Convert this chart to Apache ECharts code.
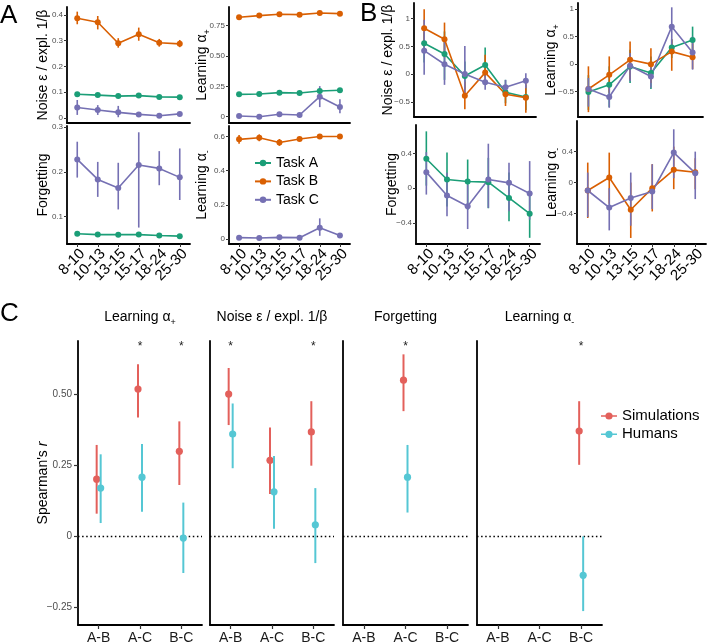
<!DOCTYPE html>
<html><head><meta charset="utf-8">
<script src="https://cdn.jsdelivr.net/npm/echarts@6/dist/echarts.min.js"></script>
<style>html,body{margin:0;padding:0;background:#fff}#c{width:708px;height:643px}</style>
</head><body><div id="c"></div>
<script>
// ---------- categories ----------
const ageGroups = ['8-10','10-13','13-15','15-17','18-24','25-30'];
const taskNames = ['Task A','Task B','Task C'];
const pairs = ['A-B','A-C','B-C'];
const groupNames = ['Simulations','Humans'];

// ---------- Panel A : parameter values per age group, [mean, low, high] ----------
const aNoiseA = [[0.092,0.088,0.096],[0.089,0.085,0.093],[0.085,0.081,0.089],[0.087,0.083,0.091],[0.082,0.078,0.086],[0.081,0.077,0.085]];
const aNoiseB = [[0.387,0.364,0.413],[0.372,0.344,0.396],[0.290,0.273,0.310],[0.325,0.300,0.351],[0.292,0.277,0.307],[0.288,0.275,0.303]];
const aNoiseC = [[0.041,0.012,0.070],[0.031,0.012,0.050],[0.022,0.003,0.047],[0.014,0.009,0.019],[0.009,0.005,0.013],[0.016,0.011,0.021]];
const aLrnPosA = [[0.184,0.176,0.192],[0.187,0.179,0.195],[0.198,0.190,0.206],[0.195,0.187,0.203],[0.212,0.204,0.220],[0.218,0.210,0.226]];
const aLrnPosB = [[0.819,0.811,0.827],[0.833,0.825,0.841],[0.844,0.836,0.852],[0.841,0.833,0.849],[0.855,0.847,0.863],[0.849,0.841,0.857]];
const aLrnPosC = [[0.006,0.000,0.012],[0.000,-0.005,0.006],[0.020,0.013,0.027],[0.014,0.007,0.021],[0.165,0.079,0.252],[0.080,0.028,0.143]];
const aForgetA = [[0.062,0.060,0.064],[0.060,0.058,0.062],[0.0598,0.058,0.062],[0.060,0.058,0.062],[0.058,0.056,0.060],[0.0565,0.0545,0.0585]];
const aForgetC = [[0.2276,0.187,0.267],[0.183,0.144,0.222],[0.164,0.116,0.220],[0.215,0.0756,0.288],[0.2075,0.170,0.246],[0.1875,0.137,0.252]];
const aLrnNegB = [[0.583,0.557,0.609],[0.592,0.572,0.612],[0.565,0.545,0.585],[0.585,0.573,0.597],[0.600,0.590,0.610],[0.600,0.590,0.610]];
const aLrnNegC = [[0.008,0.002,0.014],[0.006,0.000,0.012],[0.010,0.004,0.016],[0.008,0.002,0.014],[0.066,0.019,0.121],[0.021,0.009,0.033]];

// ---------- Panel B : standardized values, [mean, low, high] ----------
const bNoiseA = [[0.557,0.21,0.77],[0.365,-0.10,0.77],[-0.03,-0.28,0.23],[0.167,-0.04,0.48],[-0.324,-0.52,-0.10],[-0.41,-0.64,-0.19]];
const bNoiseB = [[0.827,0.50,1.17],[0.63,0.30,0.93],[-0.385,-0.63,-0.133],[0.03,-0.19,0.35],[-0.36,-0.57,-0.25],[-0.42,-0.69,-0.16]];
const bNoiseC = [[0.425,-0.01,0.98],[0.18,-0.19,0.63],[0.005,-0.40,0.51],[-0.144,-0.28,0.03],[-0.234,-0.36,-0.10],[-0.115,-0.25,0.02]];
const bLrnPosA = [[-0.505,-0.83,-0.20],[-0.374,-0.78,-0.04],[-0.043,-0.34,0.26],[-0.162,-0.45,0.14],[0.30,0.11,0.45],[0.439,0.20,0.68]];
const bLrnPosB = [[-0.451,-0.87,-0.04],[-0.193,-0.52,0.14],[0.078,-0.28,0.41],[0.0,-0.34,0.29],[0.227,-0.12,0.45],[0.126,-0.09,0.38]];
const bLrnPosC = [[-0.451,-0.77,-0.25],[-0.596,-0.79,-0.34],[-0.03,-0.31,0.20],[-0.224,-0.43,-0.04],[0.679,0.32,1.03],[0.209,-0.10,0.50]];
const bForgetA = [[0.339,0.03,0.654],[0.10,-0.21,0.41],[0.077,-0.25,0.33],[0.07,-0.23,0.35],[-0.111,-0.38,0.18],[-0.292,-0.57,-0.05]];
const bForgetC = [[0.185,-0.073,0.415],[-0.084,-0.323,0.177],[-0.207,-0.469,0.042],[0.10,-0.226,0.512],[0.062,-0.265,0.293],[-0.061,-0.361,0.312]];
const bLrnNegB = [[-0.103,-0.459,0.258],[0.065,-0.275,0.387],[-0.352,-0.717,0.0],[-0.073,-0.374,0.237],[0.164,-0.086,0.465],[0.134,-0.086,0.315]];
const bLrnNegC = [[-0.103,-0.447,0.129],[-0.323,-0.619,-0.073],[-0.201,-0.559,0.129],[-0.116,-0.343,0.237],[0.387,0.056,0.689],[0.121,-0.214,0.40]];

// ---------- Panel C : Spearman's r per task pair, [mean, low, high] ----------
const cSimLrnPos = [[0.2015,0.080,0.322],[0.519,0.419,0.606],[0.2997,0.181,0.405]];
const cHumLrnPos = [[0.170,0.047,0.289],[0.2085,0.087,0.325],[-0.006,-0.129,0.119]];
const cSimNoise = [[0.501,0.392,0.593],[0.268,0.149,0.383],[0.368,0.249,0.476]];
const cHumNoise = [[0.3606,0.240,0.468],[0.157,0.027,0.283],[0.041,-0.094,0.170]];
const cSimForget = [null,[0.550,0.441,0.641],null];
const cHumForget = [null,[0.2085,0.084,0.322],null];
const cSimLrnNeg = [null,null,[0.371,0.252,0.476]];
const cHumLrnNeg = [null,null,[-0.137,-0.263,0.000]];
const cSigLrnPos = ['','*','*'];
const cSigNoise = ['*','','*'];
const cSigForget = ['','*',''];
const cSigLrnNeg = ['','','*'];

// ---------- tick values and labels ----------
const tA_noise = [0,0.1,0.2,0.3,0.4], lA_noise = ['0','0.1','0.2','0.3','0.4'];
const tA_pos = [0,0.25,0.5,0.75], lA_pos = ['0','0.25','0.50','0.75'];
const tA_forget = [0.1,0.2,0.3], lA_forget = ['0.1','0.2','0.3'];
const tA_neg = [0,0.2,0.4,0.6], lA_neg = ['0','0.2','0.4','0.6'];
const tB_noise = [-0.5,0,0.5,1], lB_noise = ['\u22120.5','0','0.5','1'];
const tB_pos = [-0.5,0,0.5,1], lB_pos = ['\u22120.5','0','0.5','1'];
const tB_forget = [-0.4,0,0.4], lB_forget = ['\u22120.4','0','0.4'];
const tB_neg = [-0.4,0,0.4], lB_neg = ['\u22120.4','0','0.4'];
const tC = [-0.25,0,0.25,0.5], lC = ['\u22120.25','0','0.25','0.50'];

// ---------- styling ----------
const FONT = '"Liberation Sans", Arial, Helvetica, sans-serif';
const colTask = ['#1B9E77','#D95F02','#7570B3'];
const colSim = '#E3605B', colHum = '#55C7D4';
const AXL = {color:'#000', width:1.8};
const RICH = {
  t:{fontSize:14, fontFamily:FONT, color:'#000', lineHeight:20, verticalAlign:'middle'},
  s:{fontSize:9, fontFamily:FONT, color:'#000', lineHeight:9, verticalAlign:'bottom'},
  i:{fontSize:14, fontFamily:FONT, color:'#000', fontStyle:'italic', lineHeight:20, verticalAlign:'middle'}
};
const nmNoise = '{t|Noise \u03b5 / expl. 1/\u03b2}';
const nmPos = '{t|Learning \u03b1}{s|+}';
const nmNeg = '{t|Learning \u03b1}{s|-}';
const nmForget = '{t|Forgetting}';

function fmtFrom(ticks, labels){
  return v => { const i = ticks.findIndex(t => Math.abs(t - v) < 1e-9); return i >= 0 ? labels[i] : ''; };
}
function errItem(params, api){
  const x = api.value(0);
  const lo = api.coord([x, api.value(1)]), hi = api.coord([x, api.value(2)]);
  return {type:'line', shape:{x1:lo[0],y1:lo[1],x2:hi[0],y2:hi[1]}, style:{stroke:api.visual('color'), lineWidth:1.6}};
}

const grid = [], xAxis = [], yAxis = [], series = [];

function addAB(pos, yMin, yMax, ticks, labels, name, nameGap, showX, tasks){
  const i = grid.length;
  grid.push(Object.assign({containLabel:false, outerBoundsMode:'none'}, pos));
  xAxis.push({gridIndex:i, type:'category', data:ageGroups, boundaryGap:true,
    axisLine:{show:true, onZero:false, lineStyle:AXL},
    axisTick:{show:showX, alignWithLabel:true, length:3, lineStyle:{color:'#333', width:1}},
    axisLabel:{show:showX, interval:0, rotate:45, fontSize:15, color:'#000', fontFamily:FONT, margin:2,
               align:'right', verticalAlign:'top'},
    splitLine:{show:false}});
  yAxis.push({gridIndex:i, type:'value', min:yMin, max:yMax, splitLine:{show:false},
    axisLine:{show:true, onZero:false, lineStyle:AXL},
    axisTick:{show:true, length:3, customValues:ticks, lineStyle:{color:'#333', width:1}},
    axisLabel:{show:true, customValues:ticks, formatter:fmtFrom(ticks, labels), fontSize:8, color:'#4d4d4d', fontFamily:FONT, margin:4},
    name:name, nameLocation:'middle', nameRotate:90, nameGap:nameGap, nameMoveOverlap:false,
    nameTextStyle:{fontFamily:FONT, fontSize:14, color:'#000', rich:RICH}});
  tasks.forEach(([vals, k]) => {
    const color = colTask[k];
    series.push({type:'custom', name:taskNames[k]+' err', xAxisIndex:i, yAxisIndex:i,
      data: vals.map((v,j) => [j, v[1], v[2]]), renderItem:errItem, itemStyle:{color},
      encode:{x:0, y:[1,2]}, animation:false, z:2, silent:true});
    series.push({type:'line', name:taskNames[k], xAxisIndex:i, yAxisIndex:i,
      data: vals.map(v => v[0]), symbol:'circle', symbolSize:6, showSymbol:true,
      lineStyle:{color, width:1.6}, itemStyle:{color}, animation:false, z:3, silent:true});
  });
}

// Panel A
addAB({left:67, top:7, width:123, height:116}, -0.0194, 0.431, tA_noise, lA_noise, nmNoise, 14, false, [[aNoiseA,0],[aNoiseB,1],[aNoiseC,2]]);
addAB({left:229, top:7, width:121, height:116}, -0.052, 0.904, tA_pos, lA_pos, nmPos, 17, false, [[aLrnPosA,0],[aLrnPosB,1],[aLrnPosC,2]]);
addAB({left:67, top:126, width:123, height:118}, 0.039, 0.302, tA_forget, lA_forget, nmForget, 14, true, [[aForgetA,0],[aForgetC,2]]);
addAB({left:229, top:126, width:121, height:118}, -0.029, 0.661, tA_neg, lA_neg, nmNeg, 17, true, [[aLrnNegB,1],[aLrnNegC,2]]);
// Panel B
addAB({left:414, top:3, width:122, height:114}, -0.768, 1.282, tB_noise, lB_noise, nmNoise, 16, false, [[bNoiseA,0],[bNoiseB,1],[bNoiseC,2]]);
addAB({left:578, top:3, width:125, height:114}, -0.958, 1.108, tB_pos, lB_pos, nmPos, 17, false, [[bLrnPosA,0],[bLrnPosB,1],[bLrnPosC,2]]);
addAB({left:416, top:125, width:124, height:119}, -0.641, 0.727, tB_forget, lB_forget, nmForget, 14, true, [[bForgetA,0],[bForgetC,2]]);
addAB({left:577, top:121, width:129, height:123}, -0.795, 0.796, tB_neg, lB_neg, nmNeg, 15, true, [[bLrnNegB,1],[bLrnNegC,2]]);

// Panel C
const cMin = -0.312, cMax = 0.688, starLevel = 0.668;
function dodgeItem(offset){
  return function(params, api){
    const x = api.value(0);
    const m = api.coord([x, api.value(1)]), lo = api.coord([x, api.value(2)]), hi = api.coord([x, api.value(3)]);
    const px = m[0] + offset, c = api.visual('color');
    return {type:'group', children:[
      {type:'line', shape:{x1:px,y1:lo[1],x2:px,y2:hi[1]}, style:{stroke:c, lineWidth:2}},
      {type:'circle', shape:{cx:px, cy:m[1], r:3.6}, style:{fill:c}}
    ]};
  };
}
function zeroItem(params, api){
  const cs = params.coordSys; const y = api.coord([0, 0])[1];
  return {type:'line', shape:{x1:cs.x, y1:y, x2:cs.x+cs.width, y2:y}, style:{stroke:'#000', lineWidth:1.5, lineDash:[1.5,2.6]}};
}
function starItem(params, api){
  const p = api.coord([api.value(0), starLevel]);
  return {type:'text', style:{x:p[0], y:p[1], text:cStarText[params.seriesIndex][params.dataIndex], fill:'#222', font:'12px '+FONT, align:'center', verticalAlign:'middle'}};
}
const cStarText = {};
const cTitles = [];
function addC(pos, first, sim, hum, sig, title){
  const i = grid.length;
  grid.push(Object.assign({containLabel:false, outerBoundsMode:'none'}, pos));
  cTitles.push({title, cx: pos.left + pos.width/2});
  xAxis.push({gridIndex:i, type:'category', data:pairs, boundaryGap:true,
    axisLine:{show:true, onZero:false, lineStyle:AXL},
    axisTick:{show:true, alignWithLabel:true, length:4, lineStyle:{color:'#333', width:1.2}},
    axisLabel:{show:true, interval:0, fontSize:14, color:'#1a1a1a', fontFamily:FONT, margin:6},
    splitLine:{show:false}});
  yAxis.push({gridIndex:i, type:'value', min:cMin, max:cMax, splitLine:{show:false},
    axisLine:{show:true, onZero:false, lineStyle:AXL},
    axisTick:{show:first, length:4, customValues:tC, lineStyle:{color:'#333', width:1.2}},
    axisLabel:{show:first, customValues:tC, formatter:fmtFrom(tC, lC), fontSize:10, color:'#4d4d4d', fontFamily:FONT, margin:6},
    name: first ? "{t|Spearman's }{i|r}" : '', nameLocation:'middle', nameRotate:90, nameGap:25, nameMoveOverlap:false,
    nameTextStyle:{fontFamily:FONT, fontSize:14, color:'#000', rich:RICH}});
  series.push({type:'custom', name:'zero', xAxisIndex:i, yAxisIndex:i, data:[[0,0]], renderItem:zeroItem, animation:false, z:1, silent:true});
  const toData = arr => arr.map((v,j) => v ? [j, v[0], v[1], v[2]] : null).filter(Boolean);
  series.push({type:'custom', name:'Simulations', xAxisIndex:i, yAxisIndex:i, data:toData(sim), renderItem:dodgeItem(-2), itemStyle:{color:colSim}, encode:{x:0,y:[1,2,3]}, animation:false, z:3, silent:true});
  series.push({type:'custom', name:'Humans', xAxisIndex:i, yAxisIndex:i, data:toData(hum), renderItem:dodgeItem(2), itemStyle:{color:colHum}, encode:{x:0,y:[1,2,3]}, animation:false, z:3, silent:true});
  const sIdx = series.length;
  const sd = sig.map((s,j) => s ? j : null).filter(v => v !== null);
  cStarText[sIdx] = sd.map(j => sig[j]);
  series.push({type:'custom', name:'sig', xAxisIndex:i, yAxisIndex:i, data:sd.map(j => [j, starLevel]), renderItem:starItem, animation:false, z:4, silent:true});
}
addC({left:78, top:341, width:124, height:284}, true, cSimLrnPos, cHumLrnPos, cSigLrnPos, '{t|Learning \u03b1}{s|+}');
addC({left:210, top:341, width:124, height:284}, false, cSimNoise, cHumNoise, cSigNoise, '{t|Noise \u03b5 / expl. 1/\u03b2}');
addC({left:343, top:341, width:125, height:284}, false, cSimForget, cHumForget, cSigForget, '{t|Forgetting}');
addC({left:477, top:341, width:125, height:284}, false, cSimLrnNeg, cHumLrnNeg, cSigLrnNeg, '{t|Learning \u03b1}{s|-}');

const graphic = [
  {type:'text', left:0, top:3, style:{text:'A', font:'26px '+FONT, fill:'#000'}},
  {type:'text', left:360, top:1, style:{text:'B', font:'26px '+FONT, fill:'#000'}},
  {type:'text', left:0, top:301, style:{text:'C', font:'26px '+FONT, fill:'#000'}}
];
cTitles.forEach(t => graphic.push({type:'text', x:t.cx, y:317, style:{text:t.title, align:'center', verticalAlign:'middle', rich:RICH, fill:'#000', font:'14px '+FONT}}));

const legendIconC = 'path://M0,3.3L4.6,3.3L4.6,4.7L0,4.7Z M11.4,3.3L16,3.3L16,4.7L11.4,4.7Z M4.4,4A3.6,3.6 0 1 1 11.6,4A3.6,3.6 0 1 1 4.4,4Z';

const option = {
  backgroundColor:'#fff',
  animation:false,
  grid, xAxis, yAxis, series, graphic,
  legend:[
    {data:taskNames, orient:'vertical', left:254, top:156, padding:0, itemGap:4.4, itemWidth:16, itemHeight:8,
     textStyle:{fontSize:14, color:'#000', fontFamily:FONT}, selectedMode:false},
    {data:groupNames.map(n => ({name:n, icon:legendIconC})), orient:'vertical', left:601, top:408.5, padding:0, itemGap:3.3, itemWidth:16, itemHeight:7.2,
     textStyle:{fontSize:15, color:'#000', fontFamily:FONT}, selectedMode:false}
  ]
};
const chart = echarts.init(document.getElementById('c'), null, {renderer:'canvas', width:708, height:643});
chart.setOption(option);
</script>
</body></html>
